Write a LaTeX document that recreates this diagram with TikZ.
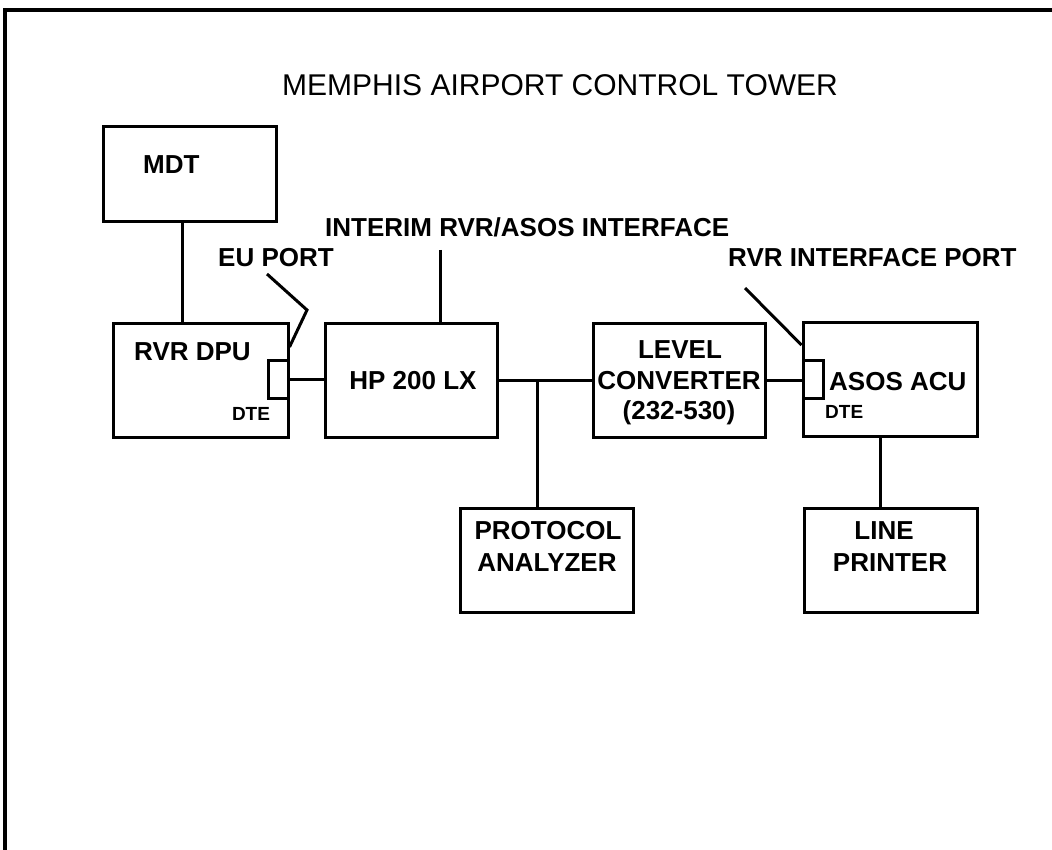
\documentclass[tikz,border=0pt]{standalone}
\usepackage{fontspec}
\setmainfont{Liberation Sans}
\begin{document}
\begin{tikzpicture}[x=1pt,y=-1pt,
  box/.style={draw, line width=3pt, rectangle, inner sep=0pt},
  wire/.style={line width=3pt},
  frame/.style={line width=3.5pt},
  lab/.style={font=\fontsize{26}{30}\selectfont\bfseries, inner sep=0pt},
  small/.style={font=\fontsize{19}{22}\selectfont\bfseries, inner sep=0pt},
  titlef/.style={font=\fontsize{30}{34}\selectfont, inner sep=0pt}]
\useasboundingbox (0,0) rectangle (1052,850);
% frame
\coordinate (ftl) at (5,10);
\coordinate (ftr) at (1052,10);
\coordinate (fbl) at (5,850);
\draw[frame] (fbl) -- (ftl) -- (ftr);
% title
\node[titlef, anchor=base] (title) at (560,96) {MEMPHIS AIRPORT CONTROL TOWER};
% boxes
\node[box, minimum width=173pt, minimum height=95pt] (mdt) at (189.5,174.5) {};
\node[box, minimum width=175pt, minimum height=114pt] (rvr) at (200.5,380) {};
\node[box, minimum width=172pt, minimum height=114pt] (hp) at (411,380) {};
\node[box, minimum width=172pt, minimum height=114pt] (lc) at (679,380) {};
\node[box, minimum width=174pt, minimum height=114pt] (asos) at (890,379) {};
\node[box, minimum width=173pt, minimum height=104pt] (pa) at (546.5,560) {};
\node[box, minimum width=173pt, minimum height=104pt] (lp) at (890.5,560) {};
\node[box, minimum width=20pt, minimum height=38pt] (rvrport) at (278,379) {};
\node[box, minimum width=20pt, minimum height=38pt] (asosport) at (813,379) {};
% texts
\node[lab, anchor=base west] (mdtt) at (143,174) {MDT};
\node[lab, anchor=base west] (rvrt) at (134,360) {RVR DPU};
\node[small, anchor=base] (rvrdte) at (251,420) {DTE};
\node[lab, anchor=base] (hpt) at (413,389) {HP 200 LX};
\node[lab, anchor=base] (lct1) at (680,358) {LEVEL};
\node[lab, anchor=base] (lct2) at (679,389) {CONVERTER};
\node[lab, anchor=base] (lct3) at (679,419) {(232-530)};
\node[lab, anchor=base west] (asost) at (829,390) {ASOS ACU};
\node[small, anchor=base west] (asosdte) at (825,418) {DTE};
\node[lab, anchor=base] (pat1) at (548,539) {PROTOCOL};
\node[lab, anchor=base] (pat2) at (547,571) {ANALYZER};
\node[lab, anchor=base] (lpt1) at (884,539) {LINE};
\node[lab, anchor=base] (lpt2) at (890,571) {PRINTER};
\node[lab, anchor=base west] (interim) at (325,237) {INTERIM RVR/ASOS INTERFACE};
\node[lab, anchor=base west] (eup) at (218,267) {EU PORT};
\node[lab, anchor=base west] (rip) at (728,267) {RVR INTERFACE PORT};
% connectors
\coordinate (mx) at (182,0);
\draw[wire] (mx |- mdt.south) -- (mx |- rvr.north);
\draw[wire] (rvrport.east) -- (rvrport.east -| hp.west);
\draw[wire] (hp.east) -- (lc.west);
\coordinate (jx) at (537,0);
\draw[wire] (jx |- hp.east) -- (jx |- pa.north);
\draw[wire] (lc.east) -- (lc.east -| asosport.west);
\coordinate (lx) at (880,0);
\draw[wire] (lx |- asos.south) -- (lx |- lp.north);
\coordinate (itop) at (440,250);
\draw[wire] (itop) -- (itop |- hp.north);
% leaders
\coordinate (eu1) at (267,274);
\coordinate (eu2) at (307,310);
\coordinate (y347) at (0,347);
\draw[wire] (eu1) -- (eu2) -- (rvr.east |- y347);
\coordinate (ri1) at (745,288);
\coordinate (y345) at (0,345);
\draw[wire] (ri1) -- (asos.west |- y345);
\end{tikzpicture}
\end{document}
